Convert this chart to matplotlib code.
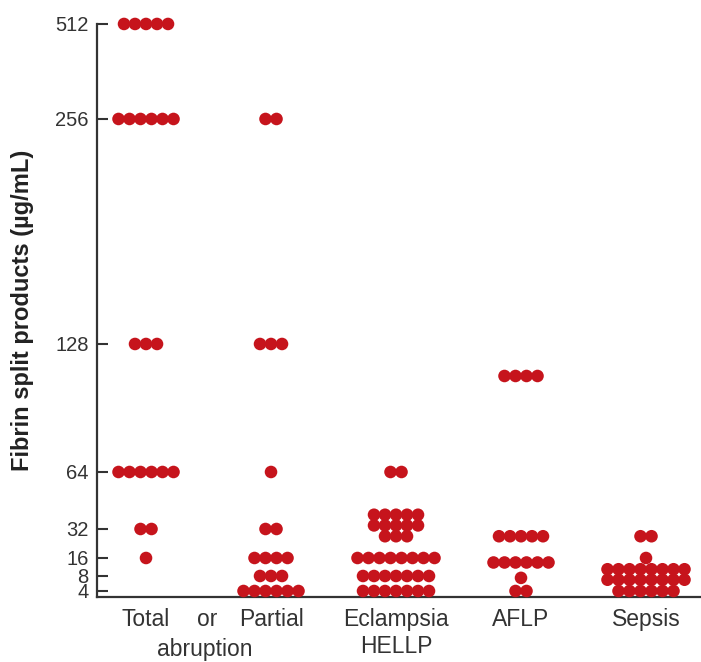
import numpy as np
import matplotlib
matplotlib.use("Agg")
import matplotlib.pyplot as plt
from matplotlib.transforms import blended_transform_factory

plt.rcParams['font.family'] = ['Liberation Sans', 'DejaVu Sans']

# FSP titres per group: each row value and how many patients sit on it
groups = ["Total", "Partial", "Eclampsia\nHELLP", "AFLP", "Sepsis"]

total_vals = [512, 256, 128, 64, 32, 16]
total_counts = [5, 6, 3, 6, 2, 1]

partial_vals = [256, 128, 64, 32, 16, 8, 4]
partial_counts = [2, 3, 1, 2, 4, 3, 6]

eclampsia_vals = [64, 40, 34, 28, 16, 8, 4]
eclampsia_counts = [2, 5, 5, 3, 8, 7, 7]

aflp_vals = [112, 28, 14, 7.5, 4]
aflp_counts = [4, 5, 6, 1, 2]

sepsis_vals = [28, 16, 11, 7, 4]
sepsis_counts = [2, 1, 8, 8, 6]

ytick_vals = [4, 8, 16, 32, 64, 128, 256, 512]

# hand-spaced y axis: piecewise linear between the labelled titres
knot_vals = np.array([0, 4, 8, 16, 32, 64, 128, 256, 512], dtype=float)
knot_pos = np.array([0, 6, 21, 39, 68, 125, 253, 478, 573], dtype=float)


def fwd(v):
    return np.interp(v, knot_vals, knot_pos)


def inv(p):
    return np.interp(p, knot_pos, knot_vals)


red = '#c6141c'
dark = '#333333'
dot_step = 0.088  # one dot width in category units

fig = plt.figure(figsize=(7.01, 6.62), dpi=100)
ax = fig.add_axes([0.1384, 0.0982, 0.8616, 0.8656])
ax.set_yscale('function', functions=(fwd, inv))

data = [(total_vals, total_counts), (partial_vals, partial_counts),
        (eclampsia_vals, eclampsia_counts), (aflp_vals, aflp_counts),
        (sepsis_vals, sepsis_counts)]

for gi, (vals, counts) in enumerate(data):
    xs, ys = [], []
    for v, n in zip(vals, counts):
        offs = (np.arange(n) - (n - 1) / 2) * dot_step
        xs.extend(gi + offs)
        ys.extend([v] * n)
    ax.scatter(xs, ys, s=82, color=red, edgecolors='none', zorder=3,
               clip_on=False)

ax.set_xlim(-0.392, 4.44)
ax.set_ylim(0, 512)

ax.set_yticks(ytick_vals)
ax.set_yticklabels([str(v) for v in ytick_vals])
ax.yaxis.set_minor_locator(plt.NullLocator())
ax.tick_params(axis='y', direction='in', length=8, width=1.5, color=dark,
               labelsize=14.5, labelcolor=dark, pad=6)

ax.set_xticks(range(len(groups)))
ax.set_xticklabels(groups)
ax.set_xticks([0.49], minor=True)
ax.set_xticklabels(["or"], minor=True)
ax.tick_params(axis='x', which='both', length=0, labelsize=16.5,
               labelcolor=dark, pad=8)
for lbl in ax.get_xticklabels():
    lbl.set_linespacing(1.22)

# second line of the shared "Total or Partial abruption" label
trans = blended_transform_factory(ax.transData, ax.transAxes)
ax.text(0.47, -0.071, "abruption", transform=trans, ha='center', va='top',
        fontsize=16.5, color=dark)

for side in ['top', 'right']:
    ax.spines[side].set_visible(False)
for side in ['left', 'bottom']:
    ax.spines[side].set_linewidth(1.6)
    ax.spines[side].set_color(dark)

ax.set_ylabel("Fibrin split products (µg/mL)", fontsize=17,
              fontweight='bold', color='#222222')
ax.yaxis.set_label_coords(-0.105, 0.5)

fig.savefig("out.png", dpi=100)
